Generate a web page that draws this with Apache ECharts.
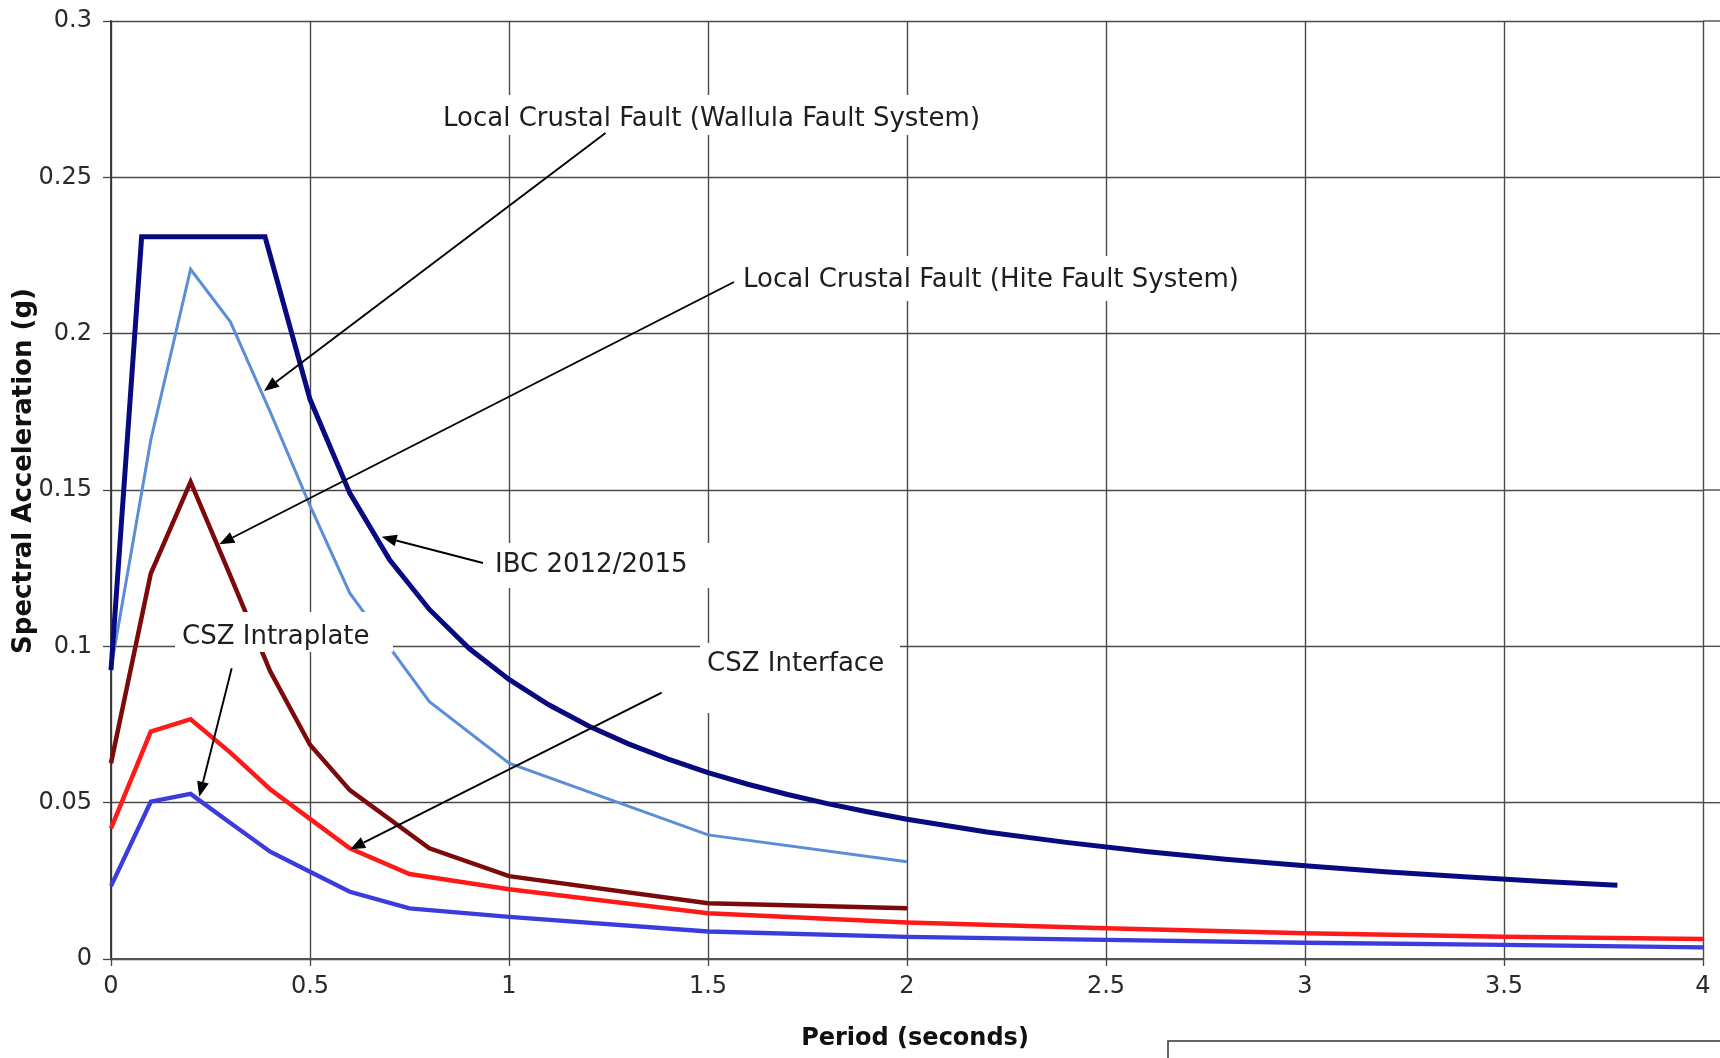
<!DOCTYPE html>
<html><head><meta charset="utf-8">
<script src="https://cdn.jsdelivr.net/npm/echarts@6/dist/echarts.min.js"></script>
<style>html,body{margin:0;padding:0;background:#fff}#c{width:1720px;height:1058px}</style>
</head><body><div id="c"></div>
<script>
// ---- data ----
const xTickLabels = ['0', '0.5', '1', '1.5', '2', '2.5', '3', '3.5', '4'];
const yTickLabels = ['0', '0.05', '0.1', '0.15', '0.2', '0.25', '0.3'];

const ibcPeriod = [0, 0.077, 0.387, 0.5, 0.6, 0.7, 0.8, 0.9, 1.0, 1.1, 1.2, 1.3, 1.4, 1.5, 1.6, 1.7, 1.8, 1.9, 2.0, 2.2, 2.4, 2.6, 2.8, 3.0, 3.2, 3.4, 3.6, 3.785];
const ibcSA     = [0.0924, 0.231, 0.231, 0.179, 0.149, 0.1277, 0.1118, 0.0993, 0.0894, 0.0813, 0.0745, 0.0688, 0.0639, 0.0596, 0.0559, 0.0526, 0.0497, 0.0471, 0.0447, 0.0406, 0.0373, 0.0344, 0.0319, 0.0298, 0.0279, 0.0263, 0.0248, 0.0236];

const wallulaPeriod = [0, 0.1, 0.2, 0.3, 0.4, 0.5, 0.6, 0.8, 1.0, 1.5, 2.0];
const wallulaSA     = [0.093, 0.166, 0.2206, 0.2038, 0.175, 0.145, 0.117, 0.0823, 0.0626, 0.0397, 0.0311];

const hitePeriod = [0, 0.1, 0.2, 0.3, 0.4, 0.5, 0.6, 0.8, 1.0, 1.5, 2.0];
const hiteSA     = [0.0626, 0.1233, 0.1526, 0.1225, 0.092, 0.0685, 0.054, 0.0354, 0.0265, 0.0178, 0.0162];

const interfacePeriod = [0, 0.1, 0.2, 0.3, 0.4, 0.5, 0.6, 0.75, 1.0, 1.5, 2.0, 2.5, 3.0, 3.5, 4.0];
const interfaceSA     = [0.0418, 0.0727, 0.0767, 0.066, 0.0543, 0.0448, 0.0354, 0.0272, 0.0223, 0.0146, 0.0117, 0.0098, 0.0082, 0.0071, 0.0064];

const intraplatePeriod = [0, 0.1, 0.2, 0.3, 0.4, 0.5, 0.6, 0.75, 1.0, 1.5, 2.0, 2.5, 3.0, 3.5, 4.0];
const intraplateSA     = [0.0233, 0.0503, 0.0528, 0.0435, 0.0343, 0.0279, 0.0215, 0.0162, 0.0135, 0.0088, 0.0071, 0.0061, 0.0052, 0.0045, 0.0037];

const labelTexts = {
  wallula: 'Local Crustal Fault (Wallula Fault System)',
  hite: 'Local Crustal Fault (Hite Fault System)',
  ibc: 'IBC 2012/2015',
  intraplate: 'CSZ Intraplate',
  iface: 'CSZ Interface'
};
const xTitle = 'Period (seconds)';
const yTitle = 'Spectral Acceleration (g)';

// ---- styles / layout ----
const FONT = '"DejaVu Sans", sans-serif';
const gridCol = '#4a4a4a';
function pairs(xs, ys) { return xs.map((x, i) => [x, ys[i]]); }
function lineSeries(name, xs, ys, color, width, z) {
  return {
    name, type: 'line', data: pairs(xs, ys), showSymbol: false, symbol: 'none',
    smooth: false, z: z, animation: false,
    lineStyle: { color, width, join: 'miter', cap: 'butt' }
  };
}

const chart = echarts.init(document.getElementById('c'), null, { renderer: 'canvas' });
const option = {
  animation: false,
  backgroundColor: '#ffffff',
  grid: { left: 111, right: 17, top: 21, bottom: 99, containLabel: false },
  xAxis: {
    type: 'value', min: 0, max: 4, interval: 0.5,
    axisLine: { show: true, onZero: false, lineStyle: { color: '#555', width: 2.2 } },
    axisTick: { show: true, length: 7, lineStyle: { color: '#444', width: 1.3 } },
    axisLabel: { margin: 16, color: '#2a2a2a', fontFamily: FONT, fontSize: 24,
      formatter: v => xTickLabels[Math.round(v / 0.5)] },
    splitLine: { show: true, lineStyle: { color: gridCol, width: 1.4 } }
  },
  yAxis: {
    type: 'value', min: 0, max: 0.3, interval: 0.05,
    axisLine: { show: true, onZero: false, lineStyle: { color: '#333', width: 1.8 } },
    axisTick: { show: true, length: 8, lineStyle: { color: '#444', width: 1.3 } },
    axisLabel: { margin: 19, color: '#2a2a2a', fontFamily: FONT, fontSize: 24,
      formatter: v => yTickLabels[Math.round(v / 0.05)] },
    splitLine: { show: true, lineStyle: { color: gridCol, width: 1.4 } }
  },
  series: [
    lineSeries('Local Crustal Fault (Wallula Fault System)', wallulaPeriod, wallulaSA, '#5b8ed6', 3, 3),
    lineSeries('IBC 2012/2015', ibcPeriod, ibcSA, '#0a0a80', 5, 4),
    lineSeries('Local Crustal Fault (Hite Fault System)', hitePeriod, hiteSA, '#7d0a0a', 4.5, 3),
    lineSeries('CSZ Interface', interfacePeriod, interfaceSA, '#ff1a1a', 4.5, 3),
    lineSeries('CSZ Intraplate', intraplatePeriod, intraplateSA, '#3c3cdc', 4.3, 3)
  ]
};
chart.setOption(option);

// ---- annotations (pixel layout) ----
const ANN_FONT = '26px "DejaVu Sans", sans-serif';
const boxes = [
  { key: 'wallula',    box: [436, 95, 550, 40],  tx: 443, ty: 119 },
  { key: 'hite',       box: [736, 256, 505, 45], tx: 743, ty: 280 },
  { key: 'ibc',        box: [488, 543, 224, 45], tx: 495, ty: 565 },
  { key: 'iface',      box: [700, 643, 200, 70], tx: 707, ty: 664 },
  { key: 'intraplate', box: [175, 612, 218, 40], tx: 182, ty: 637 }
];
const arrows = [
  [605.5, 133, 264, 391],
  [734, 282, 219.3, 544.3],
  [483, 563, 381.7, 536.7],
  [231.7, 668.3, 199.3, 796.7],
  [661.7, 692.7, 350.2, 849.3]
];
const g = [];
boxes.forEach(b => {
  g.push({ type: 'rect', z: 100, shape: { x: b.box[0], y: b.box[1], width: b.box[2], height: b.box[3] },
    style: { fill: '#ffffff', stroke: null } });
  g.push({ type: 'text', z: 101, style: { text: labelTexts[b.key], x: b.tx, y: b.ty, font: ANN_FONT,
    fill: '#1e1e1e', align: 'left', verticalAlign: 'middle' } });
});
arrows.forEach(a => {
  const [x1, y1, x2, y2] = a;
  const dx = x2 - x1, dy = y2 - y1, L = Math.hypot(dx, dy);
  const ux = dx / L, uy = dy / L, hl = 15, hw = 6;
  const bx = x2 - ux * hl, by = y2 - uy * hl;
  g.push({ type: 'line', z: 102, shape: { x1, y1, x2: bx, y2: by }, style: { stroke: '#000', lineWidth: 1.9 } });
  g.push({ type: 'polygon', z: 102, shape: { points: [[x2, y2], [bx - uy * hw, by + ux * hw], [bx + uy * hw, by - ux * hw]] },
    style: { fill: '#000', stroke: null } });
});
// axis titles
g.push({ type: 'text', z: 100, rotation: Math.PI / 2, x: 24, y: 471,
  style: { text: yTitle, x: 0, y: 0, font: 'bold 26px "DejaVu Sans", sans-serif', fill: '#111', align: 'center', verticalAlign: 'middle' } });
g.push({ type: 'text', z: 100, style: { text: xTitle, x: 915, y: 1039, font: 'bold 24px "DejaVu Sans", sans-serif', fill: '#111', align: 'center', verticalAlign: 'middle' } });
// gridline stubs past the right edge & partial legend frame
const xr = chart.convertToPixel({ xAxisIndex: 0 }, 4);
for (let i = 1; i < yTickLabels.length; i++) {
  const yp = chart.convertToPixel({ yAxisIndex: 0 }, i * 0.05);
  g.push({ type: 'line', z: 1, shape: { x1: xr, y1: yp, x2: 1720, y2: yp }, style: { stroke: gridCol, lineWidth: 1.4 } });
}
g.push({ type: 'rect', z: 100, shape: { x: 1168, y: 1041, width: 600, height: 60 }, style: { fill: '#fff', stroke: '#333', lineWidth: 1.5 } });
chart.setOption({ graphic: g });
</script>
</body></html>
